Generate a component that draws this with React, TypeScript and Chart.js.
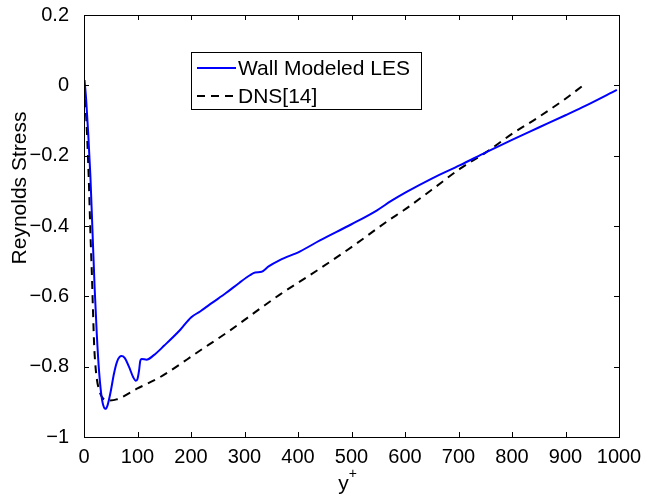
import React, { useEffect, useRef } from "react";
import { Chart, registerables } from "chart.js";

Chart.register(...registerables);

// ---- data ----
const lesYPlus = [1, 4, 8, 12, 16, 20, 24, 28, 32, 36, 40, 44, 50, 56, 62, 70, 76, 84, 92, 97, 100, 103, 105, 108, 117, 130, 150, 180, 200, 217, 240, 266, 290, 310, 320, 332, 345, 366, 404, 441, 500, 547, 575, 603, 650, 703, 752, 800, 850, 900, 939, 996];
const lesStress = [0.015, -0.04, -0.14, -0.26, -0.42, -0.58, -0.71, -0.81, -0.875, -0.91, -0.92, -0.91, -0.87, -0.82, -0.785, -0.77, -0.775, -0.8, -0.83, -0.84, -0.835, -0.81, -0.785, -0.778, -0.78, -0.768, -0.74, -0.695, -0.66, -0.643, -0.618, -0.59, -0.562, -0.54, -0.532, -0.53, -0.515, -0.497, -0.472, -0.441, -0.395, -0.356, -0.328, -0.303, -0.265, -0.227, -0.19, -0.155, -0.12, -0.085, -0.057, -0.013];

const dnsYPlus = [0, 3, 6, 9, 12, 15, 17, 19, 21, 24, 28, 33, 40, 46, 61, 100, 142, 217, 270, 329, 366, 441, 500, 572, 597, 650, 703, 752, 800, 850, 900, 933];
const dnsStress = [0.0, -0.06, -0.15, -0.27, -0.42, -0.55, -0.65, -0.74, -0.79, -0.835, -0.865, -0.885, -0.895, -0.896, -0.893, -0.862, -0.83, -0.754, -0.7, -0.635, -0.595, -0.521, -0.46, -0.381, -0.356, -0.297, -0.237, -0.19, -0.138, -0.09, -0.038, 0.0];

const xTicks = [0, 100, 200, 300, 400, 500, 600, 700, 800, 900, 1000];
const yTicks = [-1, -0.8, -0.6, -0.4, -0.2, 0, 0.2];
const seriesLabels = ["Wall Modeled LES", "DNS[14]"];
const xTitle = "y";
const xTitleSup = "+";
const yTitle = "Reynolds Stress";

const FONT = "'Liberation Sans', Arial, Helvetica, sans-serif";

function fmtY(v: number): string {
  const r = Math.round(v * 10) / 10;
  if (r === 0) return "0";
  const s = Math.abs(r).toString();
  return r < 0 ? "\u2212" + s : s;
}

const decorPlugin = {
  id: "decor",
  afterDraw(chart: any) {
    const ctx = chart.ctx as CanvasRenderingContext2D;
    const a = chart.chartArea;
    const xs = chart.scales.x;
    const ys = chart.scales.y;
    ctx.save();
    // frame
    ctx.strokeStyle = "#000";
    ctx.lineWidth = 1;
    ctx.strokeRect(Math.round(a.left) + 0.5, Math.round(a.top) + 0.5, Math.round(a.right - a.left), Math.round(a.bottom - a.top));
    // inward ticks
    const tl = 5;
    ctx.beginPath();
    xTicks.forEach((v) => {
      const px = Math.round(xs.getPixelForValue(v)) + 0.5;
      ctx.moveTo(px, a.bottom);
      ctx.lineTo(px, a.bottom - tl);
      ctx.moveTo(px, a.top);
      ctx.lineTo(px, a.top + tl);
    });
    yTicks.forEach((v) => {
      const py = Math.round(ys.getPixelForValue(v)) + 0.5;
      ctx.moveTo(a.left, py);
      ctx.lineTo(a.left + tl, py);
      ctx.moveTo(a.right, py);
      ctx.lineTo(a.right - tl, py);
    });
    ctx.stroke();

    // y title
    ctx.fillStyle = "#000";
    ctx.font = `21px ${FONT}`;
    ctx.save();
    ctx.translate(20, 188);
    ctx.rotate(-Math.PI / 2);
    ctx.textAlign = "center";
    ctx.textBaseline = "middle";
    ctx.fillText(yTitle, 0, 0);
    ctx.restore();

    // x title with superscript
    ctx.textAlign = "left";
    ctx.textBaseline = "alphabetic";
    ctx.font = `21px ${FONT}`;
    const wY = ctx.measureText(xTitle).width;
    ctx.font = `14px ${FONT}`;
    const wP = ctx.measureText(xTitleSup).width;
    const cx = (a.left + a.right) / 2 - 4;
    const x0 = cx - (wY + wP) / 2;
    ctx.font = `21px ${FONT}`;
    ctx.fillText(xTitle, x0, 490);
    ctx.font = `14px ${FONT}`;
    ctx.fillText(xTitleSup, x0 + wY, 478);

    // legend
    const lx = 191, ly = 52, lw = 230, lh = 57;
    ctx.fillStyle = "#fff";
    ctx.fillRect(lx, ly, lw, lh);
    ctx.strokeStyle = "#000";
    ctx.lineWidth = 1;
    ctx.strokeRect(lx + 0.5, ly + 0.5, lw, lh);
    const rows = [68, 96];
    const ds = chart.data.datasets;
    rows.forEach((ry, i) => {
      ctx.beginPath();
      ctx.strokeStyle = ds[i].borderColor;
      ctx.lineWidth = 2;
      ctx.setLineDash(ds[i].borderDash || []);
      ctx.moveTo(197, ry);
      ctx.lineTo(236, ry);
      ctx.stroke();
      ctx.setLineDash([]);
      ctx.fillStyle = "#000";
      ctx.font = `21px ${FONT}`;
      ctx.textBaseline = "middle";
      ctx.fillText(seriesLabels[i], 238, ry + 1);
    });
    ctx.restore();
  },
};

export default function App() {
  const ref = useRef<HTMLCanvasElement | null>(null);
  useEffect(() => {
    if (!ref.current) return;
    const chart = new Chart(ref.current, {
      type: "line",
      data: {
        datasets: [
          {
            label: seriesLabels[0],
            data: lesYPlus.map((x, i) => ({ x, y: lesStress[i] })),
            borderColor: "#0000ff",
            borderWidth: 2,
            pointRadius: 0,
            cubicInterpolationMode: "monotone",
            fill: false,
          },
          {
            label: seriesLabels[1],
            data: dnsYPlus.map((x, i) => ({ x, y: dnsStress[i] })),
            borderColor: "#000000",
            borderWidth: 2,
            borderDash: [8, 6],
            pointRadius: 0,
            cubicInterpolationMode: "monotone",
            fill: false,
          },
        ],
      },
      options: {
        responsive: false,
        animation: false,
        events: [],
        layout: { padding: { left: 0, top: 15, right: 28, bottom: 0 } },
        plugins: { legend: { display: false }, tooltip: { enabled: false }, title: { display: false } },
        scales: {
          x: {
            type: "linear",
            min: 0,
            max: 1000,
            grid: { display: false },
            border: { display: false },
            afterBuildTicks: (s: any) => {
              s.ticks = xTicks.map((v) => ({ value: v }));
            },
            afterFit: (s: any) => {
              s.height = 63;
              s.paddingLeft = 0;
              s.paddingRight = 0;
            },
            ticks: {
              autoSkip: false,
              maxRotation: 0,
              padding: 0,
              color: "#000",
              font: { family: FONT, size: 20 },
              callback: (v: any) => String(v),
            },
          },
          y: {
            type: "linear",
            min: -1,
            max: 0.2,
            grid: { display: false },
            border: { display: false },
            afterBuildTicks: (s: any) => {
              s.ticks = yTicks.map((v) => ({ value: v }));
            },
            afterFit: (s: any) => {
              s.width = 84;
              s.paddingTop = 0;
              s.paddingBottom = 0;
            },
            ticks: {
              autoSkip: false,
              padding: 7,
              color: "#000",
              font: { family: FONT, size: 20 },
              callback: (v: any) => fmtY(Number(v)),
            },
          },
        },
      },
      plugins: [decorPlugin],
    } as any);
    return () => chart.destroy();
  }, []);
  return (
    <div style={{ position: "fixed", left: 0, top: 0, width: 647, height: 500, background: "#fff" }}>
      <canvas ref={ref} width={647} height={500} style={{ display: "block", width: 647, height: 500 }} />
    </div>
  );
}
